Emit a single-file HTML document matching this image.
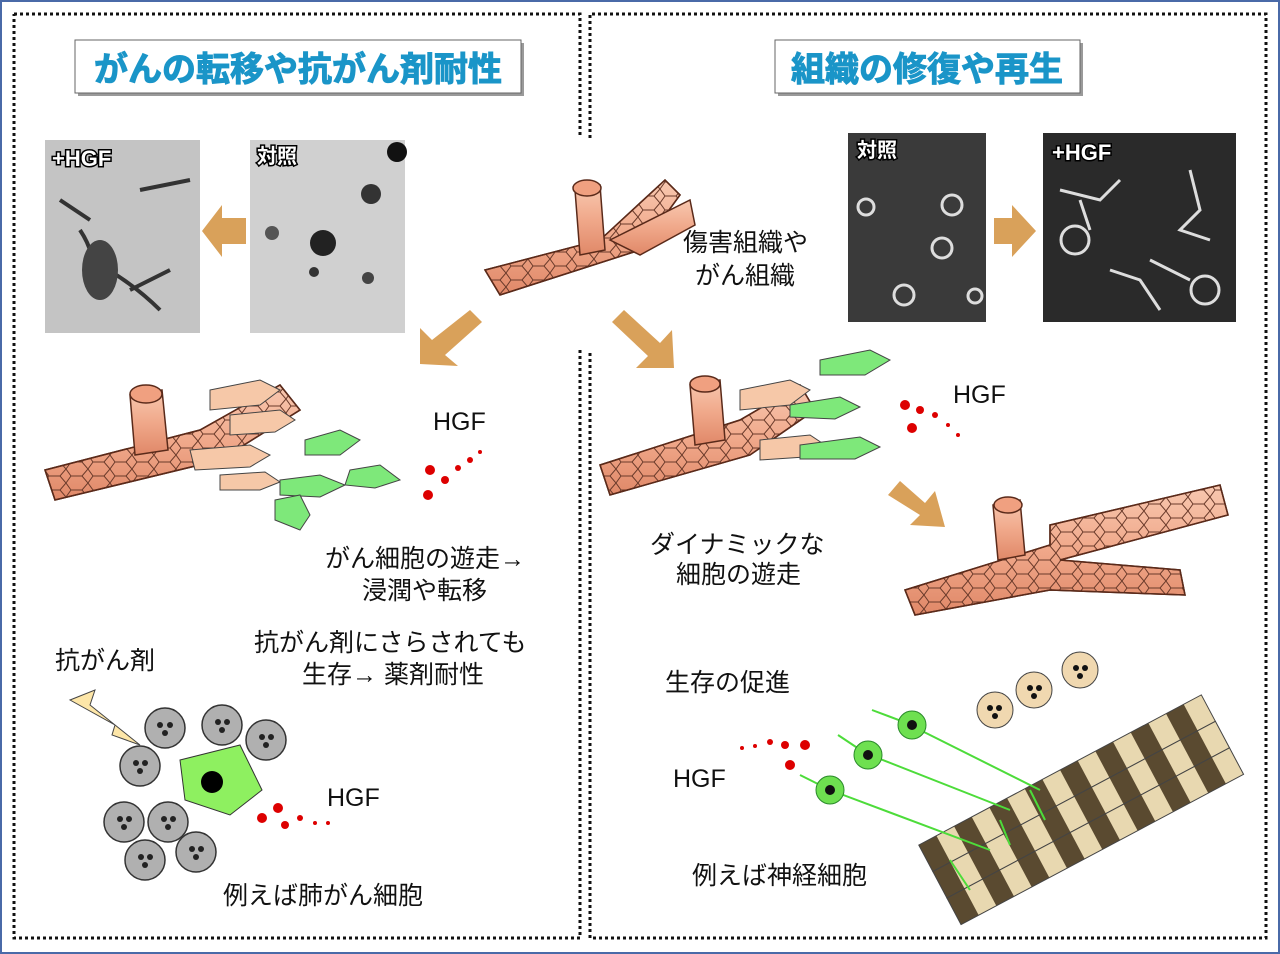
<!DOCTYPE html>
<html><head><meta charset="utf-8"><style>
html,body{margin:0;padding:0;background:#fff}
svg{display:block}
text{font-family:"Liberation Sans","Noto Sans CJK JP",sans-serif}
</style></head><body>
<svg width="1280" height="954" viewBox="0 0 1280 954" xmlns="http://www.w3.org/2000/svg">
<defs>
<linearGradient id="tube" x1="0" y1="0" x2="0" y2="1"><stop offset="0" stop-color="#f8c8b0"/><stop offset="0.5" stop-color="#f0a88a"/><stop offset="1" stop-color="#e08868"/></linearGradient>
<pattern id="hex" width="22" height="14" patternUnits="userSpaceOnUse"><path d="M0 7 L5 0 H16 L22 7 L16 14 H5 Z" fill="none" stroke="#6a3a2a" stroke-width="1"/></pattern>
<pattern id="nerve" width="40" height="20" patternUnits="userSpaceOnUse"><rect width="20" height="20" fill="#5a4a30"/><rect x="20" width="20" height="20" fill="#e8d8b0"/></pattern>
</defs>
<rect x="1" y="1" width="1278" height="952" fill="#fff" stroke="#4a6aa8" stroke-width="2"/>
<g fill="none" stroke="#111" stroke-width="3" stroke-dasharray="3 3">
<path d="M14 14 H580 V138"/><path d="M580 350 V938 H14 V14"/>
<path d="M590 138 V14 H1266 V938 H590 V350"/>
</g>
<rect x="78" y="43" width="446" height="53" fill="#9a9a9a"/>
<rect x="75" y="40" width="446" height="53" fill="#fff" stroke="#666"/>
<text x="298" y="81" font-size="34" font-weight="bold" fill="#1a95c8" stroke="#1a95c8" stroke-width="1" text-anchor="middle">がんの転移や抗がん剤耐性</text>
<rect x="778" y="43" width="305" height="53" fill="#9a9a9a"/>
<rect x="775" y="40" width="305" height="53" fill="#fff" stroke="#666"/>
<text x="927" y="81" font-size="34" font-weight="bold" fill="#1a95c8" stroke="#1a95c8" stroke-width="1" text-anchor="middle">組織の修復や再生</text>
<!-- photos -->
<rect x="45" y="140" width="155" height="193" fill="#c4c4c4"/>
<path d="M80 230 q20 30 10 60 M90 260 q40 20 70 50 M130 290 l40 -20 M60 200 l30 20 M140 190 l50 -10" stroke="#333" stroke-width="4" fill="none"/>
<ellipse cx="100" cy="270" rx="18" ry="30" fill="#444"/>
<text x="52" y="166" font-size="22" font-weight="bold" fill="#fff" stroke="#000" stroke-width="3" paint-order="stroke">+HGF</text>
<rect x="250" y="140" width="155" height="193" fill="#d0d0d0"/>
<circle cx="323" cy="243" r="13" fill="#222"/><circle cx="371" cy="194" r="10" fill="#333"/><circle cx="397" cy="152" r="10" fill="#111"/><circle cx="272" cy="233" r="7" fill="#555"/><circle cx="314" cy="272" r="5" fill="#333"/><circle cx="368" cy="278" r="6" fill="#444"/>
<text x="257" y="163" font-size="20" font-weight="bold" fill="#fff" stroke="#000" stroke-width="3" paint-order="stroke">対照</text>
<rect x="848" y="133" width="138" height="189" fill="#3a3a3a"/>
<g fill="none" stroke="#ddd" stroke-width="3"><circle cx="952" cy="205" r="10"/><circle cx="942" cy="248" r="10"/><circle cx="904" cy="295" r="10"/><circle cx="866" cy="207" r="8"/><circle cx="975" cy="296" r="7"/></g>
<text x="857" y="157" font-size="20" font-weight="bold" fill="#fff" stroke="#000" stroke-width="3" paint-order="stroke">対照</text>
<rect x="1043" y="133" width="193" height="189" fill="#2a2a2a"/>
<g fill="none" stroke="#ddd" stroke-width="3"><path d="M1060 190 l40 10 l20 -20 M1080 200 l10 30 M1190 170 l10 40 l-20 20 l30 10 M1110 270 l30 10 l20 30 M1150 260 l40 20"/><circle cx="1075" cy="240" r="14"/><circle cx="1205" cy="290" r="14"/></g>
<text x="1052" y="160" font-size="22" font-weight="bold" fill="#fff" stroke="#000" stroke-width="3" paint-order="stroke">+HGF</text>
<g fill="#d9a15a">
<polygon points="246,218 222,218 222,205 202,231 222,257 222,244 246,244"/>
<polygon points="994,218 1012,218 1012,205 1036,231 1012,257 1012,244 994,244"/>
<polygon points="470,310 482,322 445,355 458,366 420,364 420,328 432,340"/>
<polygon points="612,322 624,310 660,343 672,330 674,368 636,368 648,356"/>
<polygon points="888,495 900,481 925,503 935,491 945,527 910,525 920,515"/>
</g>
<g stroke="#5a2a1a" stroke-width="1.5">
<path d="M485 270 L600 240 L665 180 L680 195 L640 250 L500 295 Z" fill="url(#tube)"/><path d="M485 270 L600 240 L665 180 L680 195 L640 250 L500 295 Z" fill="url(#hex)"/>
<path d="M610 240 L690 200 L695 225 L640 255 Z" fill="url(#tube)"/>
<path d="M575 190 L600 185 L605 250 L580 255 Z" fill="url(#tube)"/>
<ellipse cx="587" cy="188" rx="14" ry="8" fill="#f0a080"/>
<path d="M45 470 L200 430 L280 385 L300 410 L220 460 L55 500 Z" fill="url(#tube)"/><path d="M45 470 L200 430 L280 385 L300 410 L220 460 L55 500 Z" fill="url(#hex)"/>
<path d="M130 395 L162 390 L168 450 L135 455 Z" fill="url(#tube)"/><ellipse cx="146" cy="394" rx="16" ry="9" fill="#f0a080"/>
<path d="M600 465 L740 420 L800 385 L815 410 L750 455 L610 495 Z" fill="url(#tube)"/><path d="M600 465 L740 420 L800 385 L815 410 L750 455 L610 495 Z" fill="url(#hex)"/>
<path d="M690 385 L720 380 L725 440 L695 445 Z" fill="url(#tube)"/><ellipse cx="705" cy="384" rx="15" ry="8" fill="#f0a080"/>
<path d="M905 590 L1050 545 L1050 525 L1220 485 L1228 515 L1060 560 L1180 570 L1185 595 L1050 590 L915 615 Z" fill="url(#tube)"/><path d="M905 590 L1050 545 L1050 525 L1220 485 L1228 515 L1060 560 L1180 570 L1185 595 L1050 590 L915 615 Z" fill="url(#hex)"/>
<path d="M993 505 L1020 500 L1025 555 L998 560 Z" fill="url(#tube)"/><ellipse cx="1008" cy="505" rx="14" ry="8" fill="#f0a080"/>
</g>
<g stroke="#444" stroke-width="1">
<g fill="#f6c8a8"><path d="M210 390 l50 -10 l20 10 l-20 15 l-50 5z"/><path d="M230 415 l50 -5 l15 10 l-20 12 l-45 3z"/><path d="M190 450 l60 -5 l20 10 l-20 12 l-55 3z"/><path d="M220 475 l45 -3 l15 10 l-20 8 l-40 0z"/><path d="M740 390 l50 -10 l20 10 l-20 15 l-50 5z"/><path d="M760 440 l50 -5 l15 10 l-20 12 l-45 3z"/></g>
<g fill="#7ee87a"><path d="M305 440 l35 -10 l20 10 l-20 15 l-35 0z"/><path d="M280 480 l40 -5 l25 10 l-25 12 l-40 -2z"/><path d="M350 470 l30 -5 l20 15 l-25 8 l-30 -3z"/><path d="M275 500 l25 -5 l10 20 l-10 15 l-25 -10z"/><path d="M820 360 l50 -10 l20 10 l-25 15 l-45 0z"/><path d="M790 405 l50 -8 l20 10 l-25 12 l-45 -2z"/><path d="M800 445 l60 -8 l20 10 l-25 12 l-55 0z"/></g>
</g>
<g fill="#d00">
<circle cx="428" cy="495" r="5"/><circle cx="430" cy="470" r="5"/><circle cx="445" cy="480" r="4"/><circle cx="458" cy="468" r="3"/><circle cx="470" cy="460" r="3"/><circle cx="480" cy="452" r="2"/>
<circle cx="905" cy="405" r="5"/><circle cx="912" cy="428" r="5"/><circle cx="920" cy="410" r="4"/><circle cx="935" cy="415" r="3"/><circle cx="948" cy="425" r="2"/><circle cx="958" cy="435" r="2"/>
<circle cx="262" cy="818" r="5"/><circle cx="278" cy="808" r="5"/><circle cx="285" cy="825" r="4"/><circle cx="300" cy="818" r="3"/><circle cx="315" cy="823" r="2"/><circle cx="328" cy="823" r="2"/>
<circle cx="805" cy="745" r="5"/><circle cx="790" cy="765" r="5"/><circle cx="785" cy="745" r="4"/><circle cx="770" cy="742" r="3"/><circle cx="755" cy="746" r="2"/><circle cx="742" cy="748" r="2"/>
</g>
<g fill="#b0b0b0" stroke="#333" stroke-width="1.5">
<circle cx="165" cy="728" r="20"/><circle cx="222" cy="725" r="20"/><circle cx="266" cy="740" r="20"/><circle cx="140" cy="766" r="20"/><circle cx="124" cy="822" r="20"/><circle cx="168" cy="822" r="20"/><circle cx="145" cy="860" r="20"/><circle cx="196" cy="852" r="20"/>
</g>
<g fill="#222"><circle cx="160" cy="725" r="3"/><circle cx="170" cy="725" r="3"/><circle cx="165" cy="733" r="3"/><circle cx="218" cy="722" r="3"/><circle cx="227" cy="722" r="3"/><circle cx="222" cy="730" r="3"/><circle cx="262" cy="737" r="3"/><circle cx="271" cy="737" r="3"/><circle cx="266" cy="745" r="3"/><circle cx="136" cy="763" r="3"/><circle cx="145" cy="763" r="3"/><circle cx="140" cy="771" r="3"/><circle cx="120" cy="819" r="3"/><circle cx="129" cy="819" r="3"/><circle cx="124" cy="827" r="3"/><circle cx="164" cy="819" r="3"/><circle cx="173" cy="819" r="3"/><circle cx="168" cy="827" r="3"/><circle cx="141" cy="857" r="3"/><circle cx="150" cy="857" r="3"/><circle cx="145" cy="865" r="3"/><circle cx="192" cy="849" r="3"/><circle cx="201" cy="849" r="3"/><circle cx="196" cy="857" r="3"/></g>
<polygon points="180,760 240,745 262,790 230,815 185,800" fill="#8ef060" stroke="#333"/>
<circle cx="212" cy="782" r="11" fill="#000"/>
<polygon points="70,700 95,690 90,705 140,745 112,735 115,725" fill="#fde6a8" stroke="#444"/>
<g transform="rotate(-28 1070 810)"><rect x="920" y="770" width="320" height="30" fill="url(#nerve)" stroke="#444"/><rect x="920" y="800" width="320" height="30" fill="url(#nerve)" stroke="#444"/><rect x="920" y="830" width="320" height="30" fill="url(#nerve)" stroke="#444"/></g>
<g stroke="#4ddc3a" stroke-width="2" fill="none"><path d="M830 790 L990 850 M870 755 L1010 810 M910 725 L1040 790 M950 860 L970 890 M1000 820 L1010 845 M1030 790 l15 30 M830 790 l-30 -15 M868 755 l-30 -20 M912 725 l-40 -15"/></g>
<g fill="#6ee050" stroke="#2a8a2a"><circle cx="830" cy="790" r="14"/><circle cx="868" cy="755" r="14"/><circle cx="912" cy="725" r="14"/></g>
<g fill="#111"><circle cx="830" cy="790" r="5"/><circle cx="868" cy="755" r="5"/><circle cx="912" cy="725" r="5"/></g>
<g fill="#f0d8b0" stroke="#444"><circle cx="995" cy="710" r="18"/><circle cx="1034" cy="690" r="18"/><circle cx="1080" cy="670" r="18"/></g>
<g fill="#111"><circle cx="990" cy="708" r="3"/><circle cx="999" cy="708" r="3"/><circle cx="995" cy="716" r="3"/><circle cx="1030" cy="688" r="3"/><circle cx="1039" cy="688" r="3"/><circle cx="1034" cy="696" r="3"/><circle cx="1076" cy="668" r="3"/><circle cx="1085" cy="668" r="3"/><circle cx="1080" cy="676" r="3"/></g>
<g font-size="25" fill="#111">
<text x="683" y="251">傷害組織や</text><text x="695" y="284">がん組織</text>
<text x="433" y="430">HGF</text><text x="953" y="403">HGF</text><text x="327" y="806">HGF</text><text x="673" y="787">HGF</text>
<text x="325" y="567">がん細胞の遊走→</text><text x="362" y="599">浸潤や転移</text>
<text x="254" y="651">抗がん剤にさらされても</text><text x="302" y="683">生存→ 薬剤耐性</text>
<text x="55" y="669">抗がん剤</text>
<text x="223" y="904">例えば肺がん細胞</text>
<text x="650" y="553">ダイナミックな</text><text x="676" y="583">細胞の遊走</text>
<text x="665" y="691">生存の促進</text>
<text x="692" y="884">例えば神経細胞</text>
</g>
</svg>
</body></html>
